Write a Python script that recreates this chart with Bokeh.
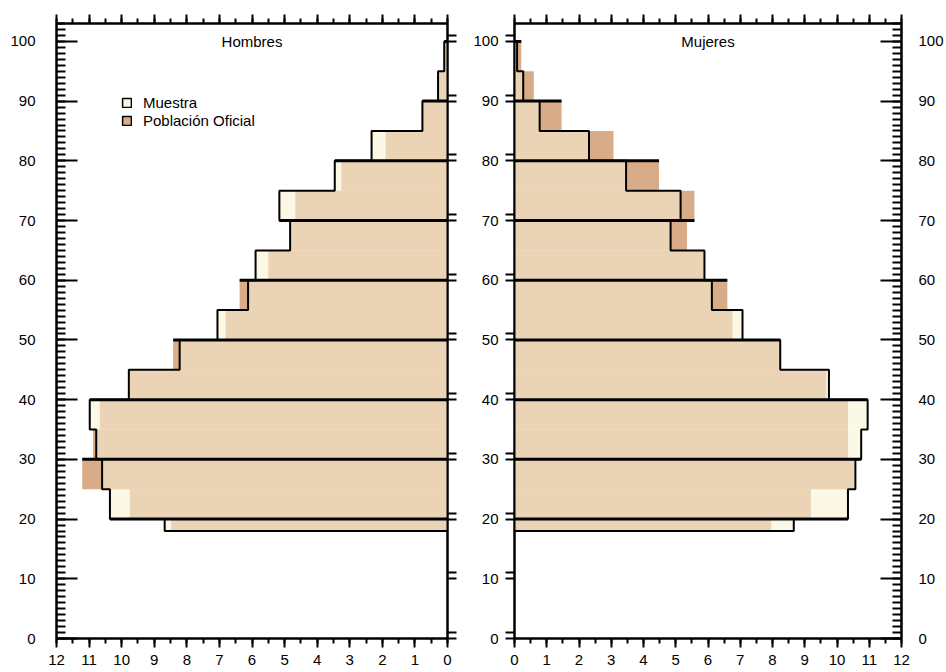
import numpy as np
from bokeh.plotting import figure
from bokeh.layouts import row
from bokeh.models import (Range1d, LinearAxis, SingleIntervalTicker, FixedTicker,
                          CustomJSTickFormatter, Label, Legend, LegendItem)
from bokeh.embed import file_html
from bokeh.resources import INLINE

# ---------------- data ----------------
age_lo = [18, 20, 25, 30, 35, 40, 45, 50, 55, 60, 65, 70, 75, 80, 85, 90, 95]
age_hi = [20, 25, 30, 35, 40, 45, 50, 55, 60, 65, 70, 75, 80, 85, 90, 95, 100]

muestra_h = [8.68, 10.36, 10.60, 10.78, 10.98, 9.78, 8.22, 7.06, 6.12, 5.89, 4.83, 5.16, 3.46, 2.33, 0.77, 0.29, 0.10]
oficial_h = [8.48, 9.75, 11.21, 10.88, 10.67, 9.78, 8.42, 6.81, 6.38, 5.50, 4.83, 4.67, 3.26, 1.90, 0.76, 0.28, 0.10]

muestra_m = [8.66, 10.34, 10.57, 10.75, 10.95, 9.75, 8.24, 7.07, 6.12, 5.89, 4.84, 5.15, 3.46, 2.31, 0.78, 0.27, 0.08]
oficial_m = [7.96, 9.19, 10.52, 10.34, 10.34, 9.67, 8.24, 6.76, 6.60, 5.89, 5.35, 5.58, 4.48, 3.07, 1.46, 0.60, 0.21]

decade_lines = [20, 30, 40, 50, 60, 70, 80, 90, 100]
y_ticks = [0, 10, 20, 30, 40, 50, 60, 70, 80, 90, 100]

panel_titles = ["Hombres", "Mujeres"]
legend_labels = ["Muestra", "Población Oficial"]

# ---------------- style ----------------
FONT = "Liberation Sans"
FS = "15px"
CREAM = "#FCF8E6"
LIGHT = "#EBD3B5"
DARK = "#D8AC88"


def style_axis(ax):
    ax.axis_line_color = "black"
    ax.axis_line_width = 2
    ax.major_tick_line_color = "black"
    ax.major_tick_line_width = 2
    ax.minor_tick_line_color = "black"
    ax.minor_tick_line_width = 2
    ax.major_label_text_font = FONT
    ax.major_label_text_font_size = FS
    ax.major_label_text_color = "black"
    return ax


def blank_labels(ax):
    ax.formatter = CustomJSTickFormatter(code="return ''")
    ax.major_label_text_font_size = "0px"
    ax.major_label_standoff = 0
    return ax


def x_axis(labels=True):
    ax = LinearAxis(ticker=SingleIntervalTicker(interval=1, num_minor_ticks=2),
                    major_tick_out=9, major_tick_in=0, minor_tick_out=5, minor_tick_in=0,
                    major_label_standoff=7)
    style_axis(ax)
    if not labels:
        blank_labels(ax)
    return ax


def comb_axis(standoff):
    ax = LinearAxis(ticker=SingleIntervalTicker(interval=10, num_minor_ticks=10),
                    major_tick_in=21, major_tick_out=0, minor_tick_in=9, minor_tick_out=0,
                    major_label_standoff=standoff)
    return style_axis(ax)


def double_axis(labels, standoff=0):
    ax = LinearAxis(ticker=FixedTicker(ticks=y_ticks, minor_ticks=[t + 1 for t in y_ticks]),
                    major_tick_out=9, major_tick_in=0, minor_tick_out=9, minor_tick_in=0,
                    major_label_standoff=standoff)
    style_axis(ax)
    if not labels:
        blank_labels(ax)
    return ax


def draw_panel(p, muestra, oficial):
    m = np.array(muestra)
    o = np.array(oficial)
    lo = np.array(age_lo)
    hi = np.array(age_hi)
    zeros = np.zeros_like(m)
    # Oficial (only part visible in darker tan), Muestra (cream), overlap (light tan)
    p.quad(left=zeros, right=o, bottom=lo, top=hi, fill_color=DARK, line_color=None)
    p.quad(left=zeros, right=m, bottom=lo, top=hi, fill_color=CREAM, line_color=None)
    p.quad(left=zeros, right=np.minimum(m, o), bottom=lo, top=hi, fill_color=LIGHT, line_color=None)
    # Muestra outline (step)
    xs = [0.0]
    ys = [float(lo[0])]
    for i in range(len(m)):
        xs += [m[i], m[i]]
        ys += [lo[i], hi[i]]
    xs.append(0.0)
    ys.append(float(hi[-1]))
    p.line(xs, ys, line_color="black", line_width=2)
    # thick decade lines
    x1 = []
    for d in decade_lines:
        vals = [max(m[i], o[i]) for i in range(len(m)) if lo[i] == d or hi[i] == d]
        x1.append(max(vals))
    p.segment(x0=[0] * len(decade_lines), x1=x1, y0=decade_lines, y1=decade_lines,
              line_color="black", line_width=3)


def base_fig(width, xr, bl, br):
    p = figure(width=width, height=671, x_range=xr, y_range=Range1d(0, 103),
               output_backend="svg", toolbar_location=None,
               x_axis_location=None, y_axis_location=None,
               min_border_left=bl, min_border_right=br, min_border_top=23, min_border_bottom=33)
    p.xgrid.grid_line_color = None
    p.ygrid.grid_line_color = None
    p.outline_line_color = "black"
    p.outline_line_width = 2
    p.background_fill_color = "white"
    p.border_fill_color = "white"
    return p


# ---------------- left panel (Hombres) ----------------
p1 = base_fig(470, Range1d(12, 0), 56, 23)
draw_panel(p1, muestra_h, oficial_h)
p1.add_layout(x_axis(), "below")
p1.add_layout(x_axis(labels=False), "above")
p1.add_layout(comb_axis(21), "left")
p1.add_layout(double_axis(False), "right")
p1.add_layout(Label(x=6, y=100, text=panel_titles[0], text_align="center", text_baseline="middle",
                    text_font=FONT, text_font_size=FS, text_color="black"))

# legend swatches (hidden one-row renderers built from the first age group)
leg_m = p1.quad(left=[0], right=[muestra_h[0]], bottom=[age_lo[0]], top=[age_hi[0]],
                fill_color=CREAM, line_color="black", line_width=1.5, visible=False)
leg_o = p1.quad(left=[0], right=[oficial_h[0]], bottom=[age_lo[0]], top=[age_hi[0]],
                fill_color=DARK, line_color="black", line_width=1.5, visible=False)
legend = Legend(items=[LegendItem(label=legend_labels[0], renderers=[leg_m]),
                       LegendItem(label=legend_labels[1], renderers=[leg_o])],
                location=(65, 509), orientation="vertical",
                glyph_width=11, glyph_height=11, label_height=18, label_standoff=11,
                spacing=0, padding=0, margin=0,
                border_line_color=None, background_fill_alpha=0,
                label_text_font=FONT, label_text_font_size=FS, label_text_color="black")
p1.add_layout(legend)

# ---------------- right panel (Mujeres) ----------------
p2 = base_fig(476, Range1d(0, 12), 42, 43)
draw_panel(p2, muestra_m, oficial_m)
p2.add_layout(x_axis(), "below")
p2.add_layout(x_axis(labels=False), "above")
p2.add_layout(double_axis(True, 7), "left")
p2.add_layout(comb_axis(17), "right")
p2.add_layout(Label(x=6, y=100, text=panel_titles[1], text_align="center", text_baseline="middle",
                    text_font=FONT, text_font_size=FS, text_color="black"))

layout = row(p1, p2, spacing=0)
open("out.html", "w").write(file_html(layout, INLINE))
